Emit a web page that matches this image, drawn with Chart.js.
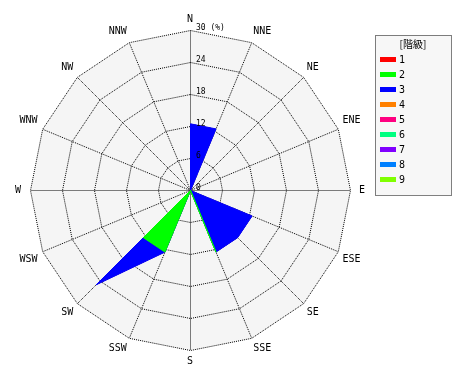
<!DOCTYPE html>
<html>
<head>
<meta charset="utf-8">
<script src="https://cdn.jsdelivr.net/npm/chart.js@4/dist/chart.umd.min.js"></script>
<style>
  html, body { margin: 0; padding: 0; background: #ffffff; }
  #wrap { width: 470px; height: 380px; }
</style>
</head>
<body>
<div id="wrap"><canvas id="c" width="470" height="380"></canvas></div>
<script>
// ---- data ----
const directions = ['N','NNE','NE','ENE','E','ESE','SE','SSE','S','SSW','SW','WSW','W','WNW','NW','NNW'];
const classLabels = ['1','2','3','4','5','6','7','8','9'];
const classColors = ['#ff0000','#00ff00','#0000ff','#ff8000','#ff0080','#00ff80','#8000ff','#0080ff','#80ff00'];
// frequency (%) per direction for each class
const class1 = [0,0,0,0,0,0,0,0,0,0,0,0,0,0,0,0];
const class2 = [0,0,0,0,0,0,0,12.5,0,12.5,12.5,0,0,0,0,0];
const class3 = [12.5,12.5,0,0,0,12.5,12.5,0,0,0,12.5,0,0,0,0,0];
const class4 = [0,0,0,0,0,0,0,0,0,0,0,0,0,0,0,0];
const class5 = [0,0,0,0,0,0,0,0,0,0,0,0,0,0,0,0];
const class6 = [0,0,0,0,0,0,0,0,0,0,0,0,0,0,0,0];
const class7 = [0,0,0,0,0,0,0,0,0,0,0,0,0,0,0,0];
const class8 = [0,0,0,0,0,0,0,0,0,0,0,0,0,0,0,0];
const class9 = [0,0,0,0,0,0,0,0,0,0,0,0,0,0,0,0];
const tickValues = [0,6,12,18,24,30];
const tickLabels = ['0','6','12','18','24','30 (%)'];
const legendTitle = '[階級]';

// ---- build stacked (cumulative) datasets ----
const classes = [class1,class2,class3,class4,class5,class6,class7,class8,class9];
const running = directions.map(() => 0);
const datasets = classes.map((vals, k) => {
  const cum = vals.map((v, i) => (running[i] += v));
  const hasData = vals.some(v => v > 0);
  return {
    label: classLabels[k],
    data: cum.slice(),
    backgroundColor: classColors[k],
    borderColor: classColors[k],
    borderWidth: hasData ? 1 : 0,
    pointRadius: 0,
    pointHoverRadius: 0,
    fill: 'origin',
    tension: 0
  };
});

const crispCenter = {
  id: 'crispCenter',
  afterLayout(chart) {
    const s = chart.scales.r;
    s.xCenter += 0.5;
    s.yCenter += 0.5;
  }
};

const tickLabelPlugin = {
  id: 'tickLabelPlugin',
  afterDraw(chart) {
    const s = chart.scales.r;
    const ctx = chart.ctx;
    ctx.save();
    ctx.font = '8px "DejaVu Sans Mono"';
    ctx.fillStyle = '#000';
    ctx.textAlign = 'left';
    ctx.textBaseline = 'alphabetic';
    tickValues.forEach((v, i) => {
      const d = s.getDistanceFromCenterForValue(v);
      ctx.fillText(tickLabels[i], Math.round(s.xCenter + 5), Math.round(s.yCenter - d - 0.5));
    });
    ctx.restore();
  }
};

const legendPlugin = {
  id: 'boxLegend',
  afterDraw(chart) {
    const ctx = chart.ctx;
    const x = 375, y = 35, w = 76, h = 160;
    ctx.save();
    ctx.fillStyle = '#f7f7f7';
    ctx.fillRect(x, y, w, h);
    ctx.strokeStyle = '#000';
    ctx.lineWidth = 1;
    ctx.setLineDash([1,1]);
    ctx.strokeRect(x + 0.5, y + 0.5, w, h);
    ctx.setLineDash([]);
    ctx.fillStyle = '#000';
    ctx.font = '10px "Noto Sans CJK JP"';
    ctx.textAlign = 'center';
    ctx.textBaseline = 'middle';
    ctx.fillText(legendTitle, x + w / 2, 44);
    ctx.font = '10px "DejaVu Sans Mono"';
    ctx.textAlign = 'left';
    chart.data.datasets.forEach((ds, i) => {
      const cy = 59.5 + i * 15;
      ctx.fillStyle = ds.backgroundColor;
      ctx.fillRect(380, Math.round(cy - 3), 16, 5);
      ctx.fillStyle = '#000';
      ctx.fillText(ds.label, 399, cy + 0.5);
    });
    ctx.restore();
  }
};

new Chart(document.getElementById('c'), {
  type: 'radar',
  data: { labels: directions, datasets: datasets },
  options: {
    responsive: false,
    animation: false,
    layout: { padding: { left: 13, top: 13, right: 103, bottom: 13 } },
    plugins: { legend: { display: false }, tooltip: { enabled: false } },
    elements: { line: { tension: 0 } },
    scales: {
      r: {
        min: 0,
        max: 30,
        beginAtZero: true,
        startAngle: 0,
        backgroundColor: '#f5f5f5',
        ticks: { display: false, stepSize: 6 },
        grid: { circular: false, color: '#000', lineWidth: 1, borderDash: [1,1] },
        border: { dash: [1,1] },
        angleLines: { display: true, color: '#000', lineWidth: 1, borderDash: [1,1] },
        pointLabels: {
          display: true,
          color: '#000',
          font: { family: 'DejaVu Sans Mono', size: 10 },
          padding: (ctx) => (ctx.index === 4 || ctx.index === 12) ? 9 : 5
        }
      }
    }
  },
  plugins: [crispCenter, tickLabelPlugin, legendPlugin]
});
</script>
</body>
</html>
